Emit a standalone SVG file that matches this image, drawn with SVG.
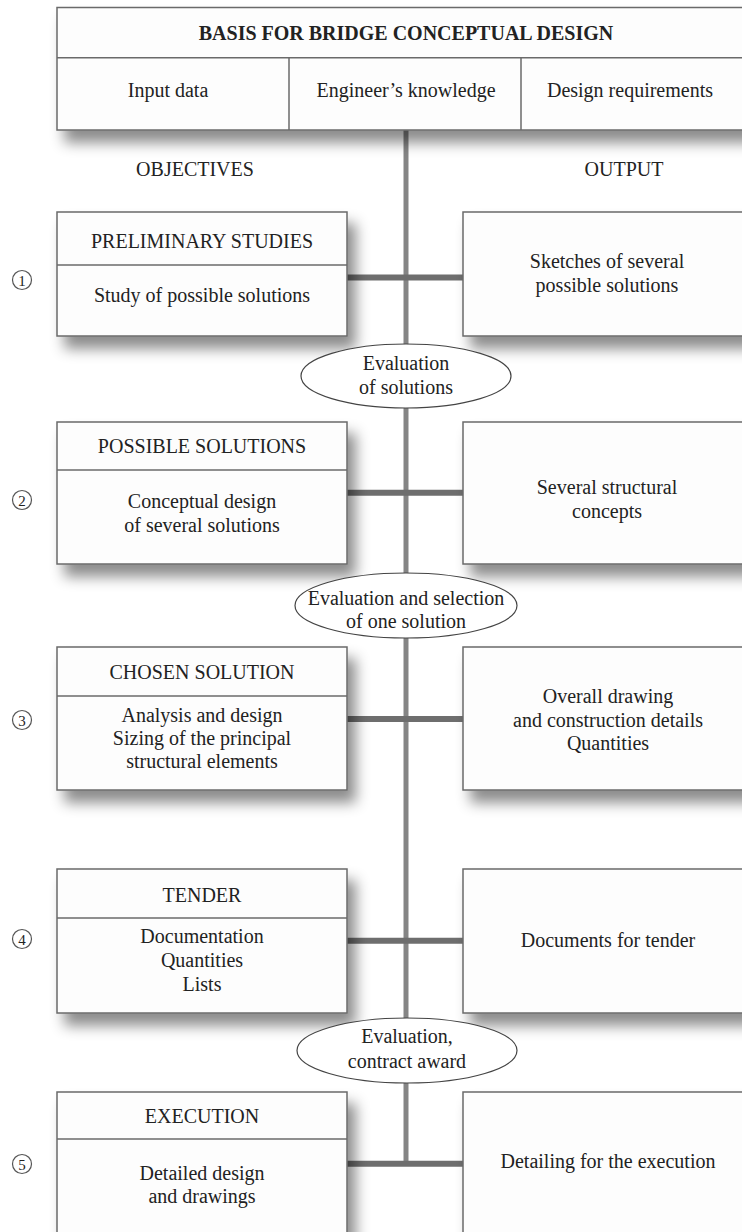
<svg xmlns="http://www.w3.org/2000/svg" width="742" height="1232" viewBox="0 0 742 1232">
<defs>
<filter id="sh" x="-20%" y="-20%" width="150%" height="160%">
<feDropShadow dx="8" dy="12" stdDeviation="7" flood-color="#000" flood-opacity="0.45"/>
</filter>
<style>
text{font-family:"Liberation Serif","Times New Roman",serif;font-size:20px;fill:#222;text-anchor:middle}
.b{font-weight:bold}
.box{fill:#fdfdfd;stroke:#6a6a6a;stroke-width:1.5}
.div{stroke:#6a6a6a;stroke-width:1.5}
.ell{fill:#fff;stroke:#444;stroke-width:1.2}
.spine{stroke:#858585;stroke-width:5;fill:none}
.link{stroke:#6e6e6e;stroke-width:6;fill:none}
.num{fill:none;stroke:#555;stroke-width:1.2}
.nt{font-size:15px}
</style>
</defs>
<rect width="742" height="1232" fill="#fff"/>

<g id="connectors">
<line class="spine" x1="406" y1="130" x2="406" y2="1161"/>
<line class="link" x1="347" y1="277.5" x2="463" y2="277.5"/>
<line class="link" x1="347" y1="492.7" x2="463" y2="492.7"/>
<line class="link" x1="347" y1="719" x2="463" y2="719"/>
<line class="link" x1="347" y1="940.7" x2="463" y2="940.7"/>
<line class="link" x1="347" y1="1163.7" x2="463" y2="1163.7"/>
</g>

<g id="header">
<rect class="box" x="57" y="7.5" width="698" height="122.5" filter="url(#sh)"/>
<line class="div" x1="57" y1="57.7" x2="755" y2="57.7"/>
<line class="div" x1="289" y1="57.7" x2="289" y2="130"/>
<line class="div" x1="521" y1="57.7" x2="521" y2="130"/>
<text class="b" x="406" y="40">BASIS FOR BRIDGE CONCEPTUAL DESIGN</text>
<text x="168" y="97">Input data</text>
<text x="406" y="97">Engineer’s knowledge</text>
<text x="630" y="97">Design requirements</text>
</g>

<g id="labels">
<text x="195" y="176">OBJECTIVES</text>
<text x="624" y="176">OUTPUT</text>
</g>

<g id="step1">
<circle class="num" cx="22" cy="280" r="9.5"/>
<text class="nt" x="22" y="285.5">1</text>
<rect class="box" x="57" y="212" width="290" height="124" filter="url(#sh)"/>
<line class="div" x1="57" y1="265" x2="347" y2="265"/>
<text x="202" y="248">PRELIMINARY STUDIES</text>
<text x="202" y="302">Study of possible solutions</text>
</g>
<g id="out1">
<rect class="box" x="463" y="212" width="290" height="124" filter="url(#sh)"/>
<text x="607" y="268">Sketches of several</text>
<text x="607" y="292">possible solutions</text>
</g>
<g id="eval1">
<ellipse class="ell" cx="406" cy="376" rx="105" ry="32"/>
<text x="406" y="370">Evaluation</text>
<text x="406" y="394">of solutions</text>
</g>

<g id="step2">
<circle class="num" cx="22" cy="500" r="9.5"/>
<text class="nt" x="22" y="505.5">2</text>
<rect class="box" x="57" y="422" width="290" height="142" filter="url(#sh)"/>
<line class="div" x1="57" y1="470" x2="347" y2="470"/>
<text x="202" y="453">POSSIBLE SOLUTIONS</text>
<text x="202" y="508">Conceptual design</text>
<text x="202" y="532">of several solutions</text>
</g>
<g id="out2">
<rect class="box" x="463" y="422" width="290" height="142" filter="url(#sh)"/>
<text x="607" y="494">Several structural</text>
<text x="607" y="518">concepts</text>
</g>
<g id="eval2">
<ellipse class="ell" cx="406" cy="605.5" rx="111" ry="32.5"/>
<text x="406" y="605">Evaluation and selection</text>
<text x="406" y="628">of one solution</text>
</g>

<g id="step3">
<circle class="num" cx="22" cy="720" r="9.5"/>
<text class="nt" x="22" y="725.5">3</text>
<rect class="box" x="57" y="647" width="290" height="143" filter="url(#sh)"/>
<line class="div" x1="57" y1="696" x2="347" y2="696"/>
<text x="202" y="679">CHOSEN SOLUTION</text>
<text x="202" y="722">Analysis and design</text>
<text x="202" y="745">Sizing of the principal</text>
<text x="202" y="768">structural elements</text>
</g>
<g id="out3">
<rect class="box" x="463" y="647" width="290" height="143" filter="url(#sh)"/>
<text x="608" y="703">Overall drawing</text>
<text x="608" y="727">and construction details</text>
<text x="608" y="750">Quantities</text>
</g>

<g id="step4">
<circle class="num" cx="22" cy="939" r="9.5"/>
<text class="nt" x="22" y="944.5">4</text>
<rect class="box" x="57" y="869" width="290" height="144" filter="url(#sh)"/>
<line class="div" x1="57" y1="918" x2="347" y2="918"/>
<text x="202" y="902">TENDER</text>
<text x="202" y="943">Documentation</text>
<text x="202" y="967">Quantities</text>
<text x="202" y="991">Lists</text>
</g>
<g id="out4">
<rect class="box" x="463" y="869" width="290" height="144" filter="url(#sh)"/>
<text x="608" y="947">Documents for tender</text>
</g>
<g id="eval3">
<ellipse class="ell" cx="407" cy="1050.5" rx="110" ry="32.5"/>
<text x="407" y="1043">Evaluation,</text>
<text x="407" y="1068">contract award</text>
</g>

<g id="step5">
<circle class="num" cx="22" cy="1164" r="9.5"/>
<text class="nt" x="22" y="1169.5">5</text>
<rect class="box" x="57" y="1092" width="290" height="150" filter="url(#sh)"/>
<line class="div" x1="57" y1="1139" x2="347" y2="1139"/>
<text x="202" y="1123">EXECUTION</text>
<text x="202" y="1180">Detailed design</text>
<text x="202" y="1203">and drawings</text>
</g>
<g id="out5">
<rect class="box" x="463" y="1092" width="290" height="150" filter="url(#sh)"/>
<text x="608" y="1168">Detailing for the execution</text>
</g>
</svg>
